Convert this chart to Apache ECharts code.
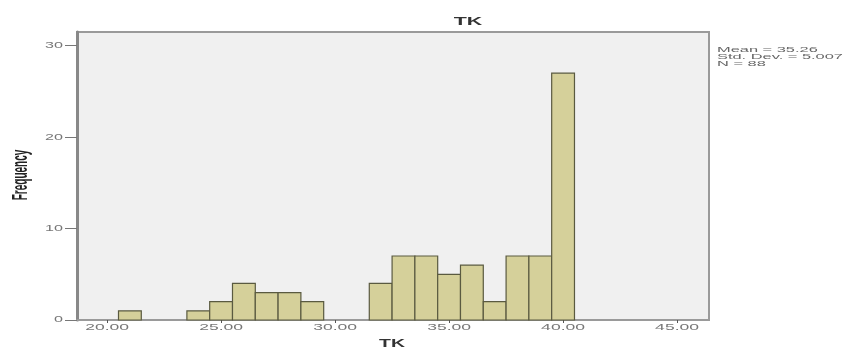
<!DOCTYPE html>
<html>
<head>
<meta charset="utf-8">
<style>
  html, body { margin: 0; padding: 0; background: #ffffff; }
  #chart { width: 843px; height: 349px; }
</style>
<script src="https://cdn.jsdelivr.net/npm/echarts@6/dist/echarts.min.js"></script>
</head>
<body>
<div id="chart"></div>
<script>
// TK histogram: bin centres (width 1) and their counts
const binCenters = [21, 24, 25, 26, 27, 28, 29, 32, 33, 34, 35, 36, 37, 38, 39, 40];
const frequencies = [1, 1, 2, 4, 3, 3, 2, 4, 7, 7, 5, 6, 2, 7, 7, 27];
const binWidth = 1;
const xTickValues = [20, 25, 30, 35, 40, 45];
const yTickValues = [0, 10, 20, 30];
const statsLines = ['Mean = 35.26', 'Std. Dev. = 5.007', 'N = 88'];

// all text is drawn widened horizontally
const WIDE = 1.95;
const FONT = 'Liberation Sans';

const chart = echarts.init(document.getElementById('chart'), null, { renderer: 'canvas' });

const barData = binCenters.map((c, i) => [c, frequencies[i]]);

chart.setOption({
  animation: false,
  backgroundColor: '#ffffff',
  grid: {
    left: 77, right: 134, top: 32, bottom: 29,
    outerBoundsMode: 'none',
    containLabel: false,
    show: true,
    backgroundColor: '#f0f0f0',
    borderColor: '#9a9a9a',
    borderWidth: 2
  },
  xAxis: {
    type: 'value',
    min: 18.68,
    max: 46.4,
    splitLine: { show: false },
    axisLine: { show: true, onZero: false, lineStyle: { color: '#9a9a9a', width: 2 } },
    axisTick: { show: true, customValues: xTickValues, length: 3, lineStyle: { color: '#555', width: 1 } },
    axisLabel: { show: false }
  },
  yAxis: {
    type: 'value',
    min: 0,
    max: 31.5,
    splitLine: { show: false },
    axisLine: { show: true, lineStyle: { color: '#888', width: 3 } },
    axisTick: { show: true, customValues: yTickValues, length: 12, lineStyle: { color: '#777', width: 1 } },
    axisLabel: { show: false }
  },
  series: [{
    type: 'custom',
    data: barData,
    encode: { x: 0, y: 1 },
    renderItem: function (params, api) {
      const c = api.value(0);
      const f = api.value(1);
      const p0 = api.coord([c - binWidth / 2, f]);
      const p1 = api.coord([c + binWidth / 2, 0]);
      return {
        type: 'rect',
        shape: { x: p0[0], y: p0[1], width: p1[0] - p0[0], height: p1[1] - p0[1] },
        style: { fill: '#d5d09a', stroke: '#5a5a40', lineWidth: 1.2 }
      };
    }
  }, {
    // x tick labels
    type: 'custom',
    clip: false,
    silent: true,
    data: xTickValues.map(v => [v, 0]),
    encode: { x: 0, y: 1 },
    renderItem: function (params, api) {
      const v = api.value(0);
      const p = api.coord([v, 0]);
      const cs = params.coordSys;
      return {
        type: 'text',
        x: p[0],
        y: cs.y + cs.height + 8,
        scaleX: WIDE,
        style: {
          text: v.toFixed(2), x: 0, y: 0,
          align: 'center', verticalAlign: 'middle',
          font: '9px "' + FONT + '"', fill: '#777'
        }
      };
    }
  }, {
    // y tick labels
    type: 'custom',
    clip: false,
    silent: true,
    data: yTickValues.map(v => [20, v]),
    encode: { x: 0, y: 1 },
    renderItem: function (params, api) {
      const v = api.value(1);
      const p = api.coord([20, v]);
      const cs = params.coordSys;
      return {
        type: 'text',
        x: cs.x - 14,
        y: p[1],
        scaleX: WIDE * 0.92,
        style: {
          text: String(v), x: 0, y: 0,
          align: 'right', verticalAlign: 'middle',
          font: '9px "' + FONT + '"', fill: '#777'
        }
      };
    }
  }],
  graphic: [{
    type: 'text',
    x: 468, y: 22,
    scaleX: WIDE,
    style: {
      text: 'TK', x: 0, y: 0, align: 'center', verticalAlign: 'middle',
      font: 'bold 11px "' + FONT + '"', fill: '#333'
    }
  }, {
    type: 'text',
    x: 392, y: 344,
    scaleX: WIDE,
    style: {
      text: 'TK', x: 0, y: 0, align: 'center', verticalAlign: 'middle',
      font: 'bold 10px "' + FONT + '"', fill: '#333'
    }
  }, {
    type: 'text',
    x: 21, y: 175,
    rotation: Math.PI / 2,
    scaleY: 2.2,
    style: {
      text: 'Frequency', x: 0, y: 0, align: 'center', verticalAlign: 'middle',
      font: 'bold 10px "' + FONT + '"', fill: '#222'
    }
  }, {
    type: 'text',
    x: 717, y: 46,
    scaleX: 2.05,
    style: {
      text: statsLines.join('\n'), x: 0, y: 0,
      align: 'left', verticalAlign: 'top',
      font: '8px "' + FONT + '"', lineHeight: 7, fill: '#666'
    }
  }]
});
</script>
</body>
</html>
